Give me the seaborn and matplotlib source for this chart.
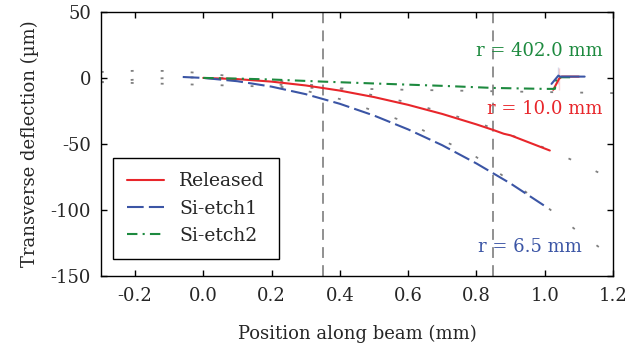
import numpy as np
import pandas as pd
import seaborn as sns
import matplotlib.pyplot as plt

# measured beam profiles: position (mm) / transverse deflection (um)
released_x = [0.0, 0.1, 0.2, 0.3, 0.4, 0.5, 0.6, 0.7, 0.8, 0.85, 0.88, 0.9, 1.0, 1.015]
released_y = [0.0, -0.9, -2.8, -5.7, -9.6, -14.5, -20.4, -27.3, -35.2, -39.5, -42.3, -43.5, -53.5, -55.0]
released_tip_x = [1.025, 1.042, 1.042, 1.05, 1.10]
released_tip_y = [-9.0, -9.0, 7.6, 1.0, 1.0]

etch1_x = [-0.06, 0.0, 0.1, 0.2, 0.3, 0.4, 0.5, 0.6, 0.7, 0.8, 0.9, 1.0]
etch1_y = [0.7, 0.0, -2.5, -6.6, -12.3, -19.6, -28.5, -39.0, -51.0, -64.8, -80.0, -97.0]
etch1_tip_x = [1.02, 1.04, 1.04, 1.045, 1.117]
etch1_tip_y = [-4.5, -4.5, 8.0, 1.0, 1.0]

etch2_x = [0.0, 0.1, 0.2, 0.35, 0.5, 0.7, 0.85, 1.0, 1.03, 1.033, 1.035, 1.08]
etch2_y = [0.0, -0.5, -1.2, -2.8, -4.2, -6.0, -7.6, -8.3, -8.3, -2.0, 0.5, 0.5]

# circle fits (grey dotted)
fit_released_x = [-0.3, -0.2, -0.1, 0.0, 0.2, 0.4, 0.6, 0.8, 1.0, 1.1, 1.2]
fit_released_y = [-3.2, -1.3, 0.0, 0.5, -1.5, -8.0, -18.5, -33.5, -53.0, -64.5, -77.0]
fit_etch1_x = [-0.3, -0.2, -0.1, 0.0, 0.1, 0.2, 0.4, 0.6, 0.8, 1.0, 1.1, 1.2]
fit_etch1_y = [4.5, 5.4, 5.3, 3.6, 0.8, -3.5, -16.0, -34.0, -60.0, -96.5, -117.0, -136.0]
fit_etch2_x = [-0.3, 0.0, 0.3, 0.6, 0.9, 1.2]
fit_etch2_y = [-3.2, -5.2, -7.4, -9.0, -10.3, -11.5]

marker_x = [0.35, 0.85]
radius_labels = ["r = 402.0 mm", "r = 10.0 mm", "r = 6.5 mm"]

red = "#e8262b"
blue = "#3b55a5"
green = "#1d8a3f"

sns.set_style("ticks")
plt.rcParams["font.family"] = ["DejaVu Serif"]
plt.rcParams["font.size"] = 13
plt.rcParams["axes.unicode_minus"] = False

fig = plt.figure(figsize=(6.3, 3.51), dpi=100)
ax = fig.add_axes([0.160, 0.214, 0.813, 0.752])

dot_style = (0, (1.6, 15))
for fx, fy in [(fit_released_x, fit_released_y), (fit_etch1_x, fit_etch1_y), (fit_etch2_x, fit_etch2_y)]:
    sns.lineplot(x=fx, y=fy, ax=ax, color="#808080", linestyle=dot_style, lw=1.3, sort=False, zorder=1)

for xm in marker_x:
    ax.axvline(xm, color="#888888", lw=1.3, linestyle=(0, (6, 4)), zorder=1)

sns.lineplot(x=released_x, y=released_y, ax=ax, color=red, lw=1.5, sort=False, label="Released", zorder=3)
sns.lineplot(x=released_tip_x, y=released_tip_y, ax=ax, color=red, lw=1.5, sort=False, zorder=3)
sns.lineplot(x=etch1_x, y=etch1_y, ax=ax, color=blue, lw=1.5, sort=False, linestyle=(0, (8, 2.5)),
             label="Si-etch1", zorder=3)
sns.lineplot(x=etch1_tip_x, y=etch1_tip_y, ax=ax, color=blue, lw=1.5, sort=False, zorder=4)
sns.lineplot(x=etch2_x, y=etch2_y, ax=ax, color=green, lw=1.5, sort=False, linestyle=(0, (5, 2.5, 1, 2.5)),
             label="Si-etch2", zorder=3)

ax.text(1.17, 20.7, radius_labels[0], color=green, ha="right", va="center", fontsize=13)
ax.text(1.17, -23.3, radius_labels[1], color=red, ha="right", va="center", fontsize=13)
ax.text(1.108, -127.9, radius_labels[2], color=blue, ha="right", va="center", fontsize=13)

ax.set_xlim(-0.3, 1.2)
ax.set_ylim(-150, 50)
ax.set_xticks([-0.2, 0.0, 0.2, 0.4, 0.6, 0.8, 1.0, 1.2])
ax.set_yticks([-150, -100, -50, 0, 50])
ax.xaxis.set_major_formatter(plt.FormatStrFormatter("%.1f"))
ax.tick_params(direction="in", top=True, right=True, length=4, width=1, color="black", labelsize=13)
ax.tick_params(axis="x", pad=8)
ax.tick_params(axis="y", pad=7)
for s in ax.spines.values():
    s.set_color("black")
    s.set_linewidth(1)
ax.set_xlabel("Position along beam (mm)", fontsize=13, labelpad=14)
ax.set_ylabel("Transverse deflection (µm)", fontsize=13, labelpad=8)

leg = ax.legend(loc="lower left", bbox_to_anchor=(0.023, 0.064), borderaxespad=0, fancybox=False,
                edgecolor="black", framealpha=1, handlelength=2.0, handletextpad=0.8,
                labelspacing=0.5, borderpad=0.75, fontsize=13.5)
leg.get_frame().set_linewidth(1)

fig.savefig("out.png", dpi=100)
